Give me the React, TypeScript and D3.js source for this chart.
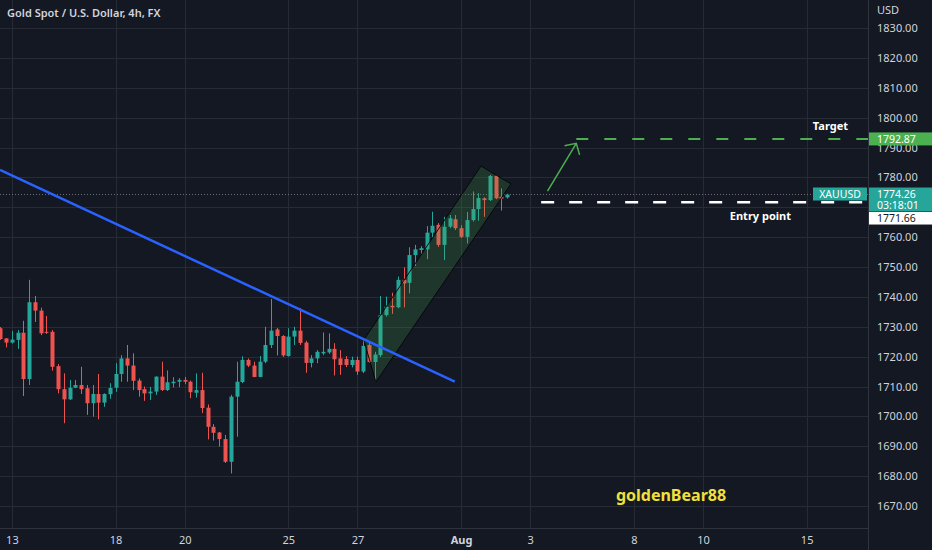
import React, { useEffect, useRef } from "react";
import * as d3 from "d3";

// 4h candles, XAUUSD
const opens = [
  1729.5, 1726.1, 1724.7, 1725.6, 1728.0, 1712.5, 1738.2, 1735.4, 1728.3, 1728.3,
  1716.8, 1709.1, 1705.7, 1709.6, 1710.5, 1709.4, 1704.4, 1707.5, 1704.6, 1707.4,
  1709.6, 1714.2, 1719.4, 1717.0, 1712.0, 1709.1, 1707.7, 1708.3, 1713.3, 1708.8,
  1711.1, 1711.6, 1712.2, 1711.6, 1707.9, 1708.8, 1702.9, 1696.5, 1694.6, 1692.4,
  1684.8, 1706.6, 1711.5, 1718.9, 1717.0, 1713.2, 1718.3, 1723.9, 1729.1, 1726.9,
  1720.2, 1726.7, 1728.7, 1724.7, 1717.9, 1719.4, 1721.1, 1721.4, 1722.6, 1719.4,
  1719.2, 1717.2, 1718.9, 1715.0, 1723.9, 1718.2, 1720.5, 1733.9, 1737.0, 1736.5,
  1745.7, 1744.7, 1754.0, 1755.7, 1755.9, 1761.5, 1764.1, 1757.4, 1763.5, 1766.0,
  1763.0, 1760.1, 1765.7, 1769.4, 1773.0, 1772.4, 1780.5, 1773.5, 1773.3,
];
const highs = [
  1729.9, 1726.2, 1728.6, 1728.9, 1732.0, 1745.7, 1740.3, 1736.4, 1733.6, 1728.9,
  1717.5, 1714.4, 1712.2, 1712.2, 1716.6, 1710.5, 1710.5, 1714.2, 1707.7, 1711.1,
  1717.8, 1720.5, 1723.9, 1721.1, 1712.7, 1710.0, 1709.9, 1713.4, 1718.3, 1715.4,
  1713.1, 1712.8, 1713.2, 1712.0, 1714.4, 1714.6, 1704.0, 1697.4, 1694.8, 1693.8,
  1707.2, 1718.3, 1720.1, 1719.4, 1718.3, 1720.2, 1730.0, 1739.3, 1729.6, 1727.2,
  1729.5, 1730.0, 1736.2, 1725.3, 1720.5, 1722.2, 1728.1, 1727.8, 1724.5, 1722.2,
  1720.2, 1720.0, 1720.0, 1725.6, 1725.0, 1721.6, 1740.3, 1740.1, 1741.4, 1746.8,
  1749.9, 1756.6, 1757.4, 1757.0, 1763.7, 1768.5, 1764.7, 1766.8, 1767.4, 1767.4,
  1764.0, 1768.4, 1775.3, 1774.7, 1773.3, 1780.8, 1780.8, 1776.3, 1774.5,
];
const lows = [
  1725.6, 1723.1, 1724.4, 1722.6, 1706.8, 1710.5, 1731.6, 1727.2, 1727.6, 1715.3,
  1707.7, 1697.7, 1705.5, 1709.4, 1707.5, 1700.5, 1699.9, 1699.0, 1703.2, 1705.9,
  1708.2, 1711.6, 1711.6, 1708.8, 1706.6, 1705.2, 1705.5, 1707.2, 1708.5, 1708.5,
  1709.7, 1709.8, 1710.8, 1706.1, 1706.3, 1701.1, 1692.3, 1691.9, 1689.9, 1684.4,
  1680.9, 1693.2, 1711.1, 1716.5, 1713.1, 1713.1, 1717.8, 1722.9, 1720.4, 1719.9,
  1720.0, 1723.9, 1723.9, 1714.6, 1716.4, 1717.8, 1720.5, 1720.9, 1713.7, 1713.9,
  1716.5, 1716.4, 1713.9, 1714.5, 1717.9, 1711.6, 1719.9, 1733.4, 1734.3, 1736.2,
  1736.5, 1741.2, 1750.3, 1754.3, 1752.6, 1759.9, 1756.7, 1752.3, 1763.0, 1762.4,
  1759.7, 1757.9, 1765.2, 1765.5, 1766.8, 1772.1, 1772.7, 1768.9, 1772.9,
];
const closes = [
  1725.9, 1724.7, 1725.7, 1728.0, 1712.5, 1738.2, 1735.4, 1727.8, 1728.0, 1716.6,
  1709.1, 1705.7, 1709.6, 1710.5, 1709.1, 1704.4, 1707.5, 1704.6, 1707.5, 1709.5,
  1714.2, 1719.4, 1717.0, 1711.9, 1708.8, 1707.7, 1708.3, 1713.3, 1708.8, 1711.4,
  1711.6, 1712.2, 1711.6, 1708.1, 1708.8, 1702.8, 1696.5, 1694.5, 1692.4, 1684.8,
  1706.6, 1711.6, 1718.9, 1717.0, 1713.2, 1718.3, 1723.9, 1728.7, 1726.9, 1720.4,
  1726.7, 1728.7, 1724.6, 1717.9, 1719.4, 1721.6, 1721.6, 1722.6, 1719.1, 1717.2,
  1717.2, 1718.9, 1715.0, 1723.6, 1718.2, 1720.7, 1733.9, 1736.7, 1736.5, 1745.7,
  1744.5, 1754.0, 1755.9, 1756.3, 1761.5, 1763.8, 1757.4, 1763.5, 1766.3, 1763.0,
  1760.1, 1765.7, 1769.4, 1773.1, 1772.4, 1780.5, 1773.0, 1772.9, 1774.26,
];

// axes
const priceTicks = d3.range(1670, 1831, 10);
const hiddenPriceLabels = [1770]; // covered by the price tags
const dateTickBars = [2, 20, 32, 50, 62, 80, 92, 110, 122, 140];
const dateTickLabels = ["13", "18", "20", "25", "27", "Aug", "3", "8", "10", "15"];

// drawings (bar index, price)
const trendLine = [[-0.07, 1782.5], [78.9, 1711.6]];
const channel = [[63.1, 1725.6], [83.45, 1783.8], [88.66, 1777.8], [65.2, 1711.5]];
const arrowFrom = [95.0, 1775.4];
const arrowTo = [100.0, 1791.4];
const targetPrice = 1792.87;
const targetStart = 100.0;
const entryPrice = 1771.66;
const entryStart = 93.9;
const lastPrice = 1774.26;
const countdown = "03:18:01";

const W = 932;
const H = 550;
const plotRight = 868;
const plotBottom = 528;

const BG = "#141823";
const GRID = "#272b36";
const TEXT = "#d1d4dc";
const UP = "#26a69a";
const DOWN = "#ef5350";
const FONT = "'Noto Sans', Roboto, sans-serif";

const Chart: React.FC = () => {
  const ref = useRef<SVGSVGElement | null>(null);

  useEffect(() => {
    const svg = d3.select(ref.current);
    svg.selectAll("*").remove();

    const x = d3.scaleLinear().domain([0, 150]).range([0.4, 0.4 + 5.759 * 150]);
    const y = d3.scaleLinear().domain([1670, 1830]).range([506, 28]);

    svg.append("rect").attr("width", W).attr("height", H).attr("fill", BG);

    // grid
    const grid = svg.append("g");
    grid
      .selectAll("line.h")
      .data(priceTicks)
      .enter()
      .append("line")
      .attr("x1", 0)
      .attr("x2", plotRight)
      .attr("y1", (d) => Math.round(y(d)) + 0.5)
      .attr("y2", (d) => Math.round(y(d)) + 0.5)
      .attr("stroke", GRID);
    grid
      .selectAll("line.v")
      .data(dateTickBars)
      .enter()
      .append("line")
      .attr("x1", (d) => Math.round(x(d)) + 0.5)
      .attr("x2", (d) => Math.round(x(d)) + 0.5)
      .attr("y1", 0)
      .attr("y2", plotBottom)
      .attr("stroke", GRID);

    // current price dotted line
    svg
      .append("line")
      .attr("x1", 0)
      .attr("x2", plotRight)
      .attr("y1", y(lastPrice))
      .attr("y2", y(lastPrice))
      .attr("stroke", "#8d929c")
      .attr("stroke-dasharray", "1 2")
      .attr("opacity", 0.7);

    // candles
    const idx = d3.range(closes.length);
    const bw = 4;
    const candles = svg.append("g");
    candles
      .selectAll("line")
      .data(idx)
      .enter()
      .append("line")
      .attr("x1", (i) => Math.round(x(i)) + 0.5)
      .attr("x2", (i) => Math.round(x(i)) + 0.5)
      .attr("y1", (i) => y(highs[i]))
      .attr("y2", (i) => y(lows[i]))
      .attr("stroke", (i) => (closes[i] >= opens[i] ? UP : DOWN));
    candles
      .selectAll("rect")
      .data(idx)
      .enter()
      .append("rect")
      .attr("x", (i) => Math.round(x(i)) + 0.5 - bw / 2)
      .attr("width", bw)
      .attr("y", (i) => y(Math.max(opens[i], closes[i])))
      .attr("height", (i) => Math.max(1, Math.abs(y(opens[i]) - y(closes[i]))))
      .attr("fill", (i) => (closes[i] >= opens[i] ? UP : DOWN));

    // parallel channel
    svg
      .append("path")
      .attr("d", d3.line()(channel.map((p) => [x(p[0]), y(p[1])] as [number, number])) + "Z")
      .attr("fill", "rgba(76,175,80,0.2)")
      .attr("stroke", "#05080a")
      .attr("stroke-width", 1);

    // trend line
    svg
      .append("line")
      .attr("x1", x(trendLine[0][0]))
      .attr("y1", y(trendLine[0][1]))
      .attr("x2", x(trendLine[1][0]))
      .attr("y2", y(trendLine[1][1]))
      .attr("stroke", "#2962ff")
      .attr("stroke-width", 2.5);

    // arrow
    const ax1 = x(arrowFrom[0]);
    const ay1 = y(arrowFrom[1]);
    const ax2 = x(arrowTo[0]);
    const ay2 = y(arrowTo[1]);
    const ang = Math.atan2(ay1 - ay2, ax1 - ax2);
    const head = 12;
    const spread = (47 * Math.PI) / 180;
    svg
      .append("path")
      .attr(
        "d",
        `M${ax1},${ay1}L${ax2},${ay2}` +
          `M${ax2 + head * Math.cos(ang - spread)},${ay2 + head * Math.sin(ang - spread)}` +
          `L${ax2},${ay2}L${ax2 + head * Math.cos(ang + spread)},${ay2 + head * Math.sin(ang + spread)}`
      )
      .attr("fill", "none")
      .attr("stroke", "#4caf50")
      .attr("stroke-width", 1.5);

    // target / entry lines
    svg
      .append("line")
      .attr("x1", x(targetStart))
      .attr("x2", plotRight)
      .attr("y1", y(targetPrice))
      .attr("y2", y(targetPrice))
      .attr("stroke", "#4caf50")
      .attr("stroke-width", 2)
      .attr("stroke-dasharray", "12 16");
    svg
      .append("line")
      .attr("x1", x(entryStart))
      .attr("x2", plotRight)
      .attr("y1", y(entryPrice))
      .attr("y2", y(entryPrice))
      .attr("stroke", "#ffffff")
      .attr("stroke-width", 2.5)
      .attr("stroke-dasharray", "13 15");

    svg
      .append("text")
      .attr("x", 848)
      .attr("y", y(targetPrice) - 9)
      .attr("text-anchor", "end")
      .attr("fill", "#ffffff")
      .attr("font-size", 11)
      .attr("font-weight", 700)
      .attr("font-family", FONT)
      .text("Target");
    svg
      .append("text")
      .attr("x", 791)
      .attr("y", y(entryPrice) + 18)
      .attr("text-anchor", "end")
      .attr("fill", "#ffffff")
      .attr("font-size", 11)
      .attr("font-weight", 700)
      .attr("font-family", FONT)
      .text("Entry point");

    // watermark
    svg
      .append("text")
      .attr("x", 671)
      .attr("y", 501)
      .attr("text-anchor", "middle")
      .attr("fill", "#f2e03a")
      .attr("font-size", 16)
      .attr("font-weight", 700)
      .attr("font-family", FONT)
      .text("goldenBear88");

    // title
    svg
      .append("text")
      .attr("x", 7)
      .attr("y", 17)
      .attr("fill", TEXT)
      .attr("font-size", 11)
      .attr("font-weight", 600)
      .attr("font-family", FONT)
      .text("Gold Spot / U.S. Dollar, 4h, FX");

    // axes borders
    svg
      .append("line")
      .attr("x1", plotRight + 0.5)
      .attr("x2", plotRight + 0.5)
      .attr("y1", 0)
      .attr("y2", H)
      .attr("stroke", "#2f333e");
    svg
      .append("line")
      .attr("x1", 0)
      .attr("x2", plotRight)
      .attr("y1", plotBottom + 0.5)
      .attr("y2", plotBottom + 0.5)
      .attr("stroke", "#2f333e");

    // price axis
    const yAxis = d3
      .axisRight(y)
      .tickValues(priceTicks.filter((d) => !hiddenPriceLabels.includes(d)))
      .tickFormat((d) => (d as number).toFixed(2))
      .tickSize(0)
      .tickPadding(9);
    const ya = svg.append("g").attr("transform", `translate(${plotRight},0)`).call(yAxis);
    ya.select(".domain").remove();
    ya.selectAll("text")
      .attr("fill", TEXT)
      .attr("font-size", 11)
      .attr("font-family", FONT);

    svg
      .append("text")
      .attr("x", 877)
      .attr("y", 14)
      .attr("fill", TEXT)
      .attr("font-size", 11)
      .attr("font-family", FONT)
      .text("USD");

    // time axis
    const xAxis = d3
      .axisBottom(x)
      .tickValues(dateTickBars)
      .tickFormat((d, i) => dateTickLabels[i])
      .tickSize(0)
      .tickPadding(8);
    const xa = svg.append("g").attr("transform", `translate(0,${plotBottom})`).call(xAxis);
    xa.select(".domain").remove();
    xa.selectAll("text")
      .attr("fill", TEXT)
      .attr("font-size", 11)
      .attr("font-family", FONT)
      .attr("font-weight", (d, i) => (dateTickLabels[i] === "Aug" ? 700 : 400));

    // price tags
    const tag = (
      tx: number,
      ty: number,
      tw: number,
      th: number,
      fill: string,
      lines: string[],
      color: string,
      anchor = "start"
    ) => {
      svg.append("rect").attr("x", tx).attr("y", ty).attr("width", tw).attr("height", th).attr("fill", fill);
      lines.forEach((s, k) => {
        svg
          .append("text")
          .attr("x", anchor === "middle" ? tx + tw / 2 : 877)
          .attr("y", ty + 6.5 + k * 11.5)
          .attr("dy", "0.35em")
          .attr("text-anchor", anchor)
          .attr("fill", color)
          .attr("font-size", 10.5)
          .attr("font-family", FONT)
          .text(s);
      });
    };
    const ty = y(targetPrice);
    tag(plotRight + 1, ty - 6.5, W - plotRight, 13, "#4caf50", [targetPrice.toFixed(2)], "#ffffff");
    const ly = y(lastPrice);
    tag(plotRight + 1, ly - 7, W - plotRight, 24, UP, [lastPrice.toFixed(2), countdown], "#ffffff");
    tag(813, ly - 7, 54, 13, UP, ["XAUUSD"], "#ffffff", "middle");
    tag(plotRight + 1, ly + 17.5, W - plotRight, 12.5, "#ffffff", [entryPrice.toFixed(2)], BG);
  }, []);

  return (
    <svg
      ref={ref}
      width={W}
      height={H}
      viewBox={`0 0 ${W} ${H}`}
      style={{ position: "absolute", left: 0, top: 0, display: "block" }}
    />
  );
};

export default function App() {
  return <Chart />;
}
